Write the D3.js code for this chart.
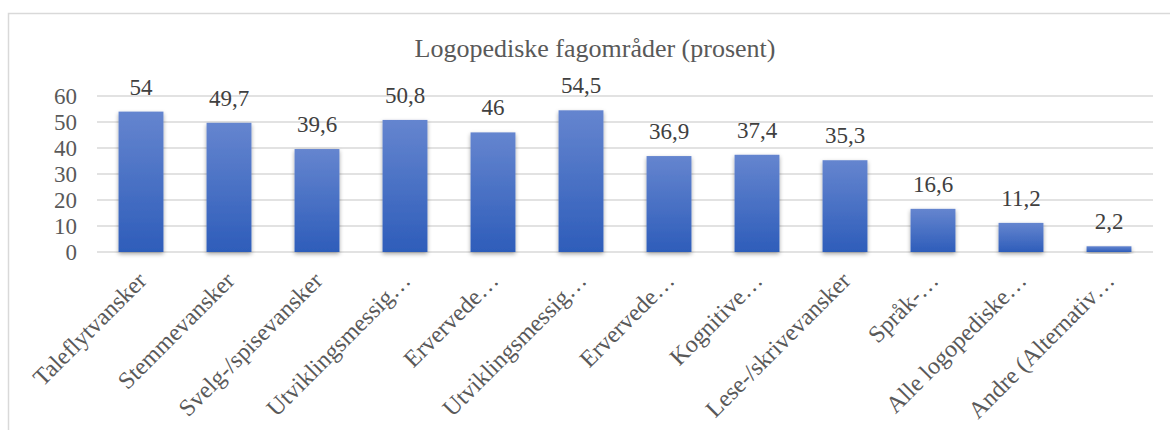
<!DOCTYPE html>
<html>
<head>
<meta charset="utf-8">
<script src="https://cdn.jsdelivr.net/npm/d3@7"></script>
<style>
  body { margin: 0; background: #fff; }
</style>
</head>
<body>
<div id="chart"></div>
<script>
// Chart size, same as the browser window
const w = 1170;
const h = 430;
const serif = "'Liberation Serif', 'Times New Roman', serif";

// Plot area inside the frame
const plotLeft = 97;
const plotRight = 1153;
const plotTop = 96;
const plotBottom = 252;

// Data
const categories = [
  "Taleflytvansker", "Stemmevansker", "Svelg-/spisevansker", "Utviklingsmessig…",
  "Ervervede…", "Utviklingsmessig… ", "Ervervede… ", "Kognitive…",
  "Lese-/skrivevansker", "Språk-…", "Alle logopediske…", "Andre (Alternativ…"
];
const values = [54, 49.7, 39.6, 50.8, 46, 54.5, 36.9, 37.4, 35.3, 16.6, 11.2, 2.2];
const yTicks = [0, 10, 20, 30, 40, 50, 60];
const title = "Logopediske fagområder (prosent)";

const dataset = categories.map((c, i) => ({ cat: c, value: values[i] }));

const svg = d3.select("#chart").append("svg")
  .attr("width", w)
  .attr("height", h);

// Gradient and shadow for the bars
const defs = svg.append("defs");
const grad = defs.append("linearGradient")
  .attr("id", "barGrad")
  .attr("x1", 0).attr("y1", 0).attr("x2", 0).attr("y2", 1);
grad.append("stop").attr("offset", "0%").attr("stop-color", "#6585cf");
grad.append("stop").attr("offset", "100%").attr("stop-color", "#2e5dba");

const shadow = defs.append("filter")
  .attr("id", "shadow")
  .attr("x", "-20%").attr("y", "-20%").attr("width", "140%").attr("height", "140%");
shadow.append("feDropShadow")
  .attr("dx", 0).attr("dy", 2)
  .attr("stdDeviation", 2)
  .attr("flood-color", "#000")
  .attr("flood-opacity", 0.35);

// Chart frame (only the top and left edges are visible)
svg.append("path")
  .attr("d", `M8.5,${h} V13.5 H${w}`)
  .attr("fill", "none")
  .attr("stroke", "#d9d9d9")
  .attr("stroke-width", 1.5);

// Scales
const xScale = d3.scaleBand()
  .domain(categories)
  .range([plotLeft, plotRight])
  .paddingInner(0.49)
  .paddingOuter(0.245);

const yScale = d3.scaleLinear()
  .domain([0, 60])
  .range([plotBottom, plotTop]);

// Gridlines
svg.append("g")
  .selectAll("line")
  .data(yTicks)
  .enter()
  .append("line")
  .attr("x1", plotLeft)
  .attr("x2", plotRight)
  .attr("y1", d => yScale(d))
  .attr("y2", d => yScale(d))
  .attr("stroke", "#d9d9d9")
  .attr("stroke-width", 1.5);

// Y axis labels (font set after call, the axis overrides it otherwise)
const yAxis = d3.axisLeft(yScale).tickValues(yTicks).tickSize(0).tickPadding(20);
const yG = svg.append("g")
  .attr("transform", `translate(${plotLeft},0)`)
  .call(yAxis)
  .attr("font-family", serif)
  .attr("font-size", 23);
yG.select(".domain").remove();
yG.selectAll("text")
  .attr("fill", "#595959");

// Bars
svg.append("g")
  .selectAll("rect")
  .data(dataset)
  .enter()
  .append("rect")
  .attr("x", d => xScale(d.cat))
  .attr("y", d => yScale(d.value))
  .attr("width", xScale.bandwidth())
  .attr("height", d => plotBottom - yScale(d.value))
  .attr("fill", "url(#barGrad)")
  .attr("filter", "url(#shadow)");

// Value labels
const fmt = v => String(v).replace(".", ",");
svg.append("g")
  .attr("font-family", serif)
  .attr("font-size", 23)
  .selectAll("text")
  .data(dataset)
  .enter()
  .append("text")
  .attr("x", d => xScale(d.cat) + xScale.bandwidth() / 2)
  .attr("y", d => yScale(d.value) - 17)
  .attr("text-anchor", "middle")
  .attr("fill", "#404040")
  .text(d => fmt(d.value));

// Category labels, rotated
const xAxis = d3.axisBottom(xScale).tickSize(0).tickPadding(0);
const xG = svg.append("g")
  .attr("transform", `translate(0,${plotBottom})`)
  .call(xAxis)
  .attr("font-family", serif)
  .attr("font-size", 24);
xG.select(".domain").remove();
xG.selectAll("text")
  .attr("transform", "translate(7,30)rotate(-45)")
  .attr("dy", 0)
  .attr("y", 0)
  .style("text-anchor", "end")
  .attr("fill", "#595959")
  .text(d => d.trim());

// Title
svg.append("text")
  .attr("x", 595)
  .attr("y", 57)
  .attr("text-anchor", "middle")
  .attr("fill", "#595959")
  .attr("font-family", serif)
  .attr("font-size", 26)
  .text(title);
</script>
</body>
</html>
